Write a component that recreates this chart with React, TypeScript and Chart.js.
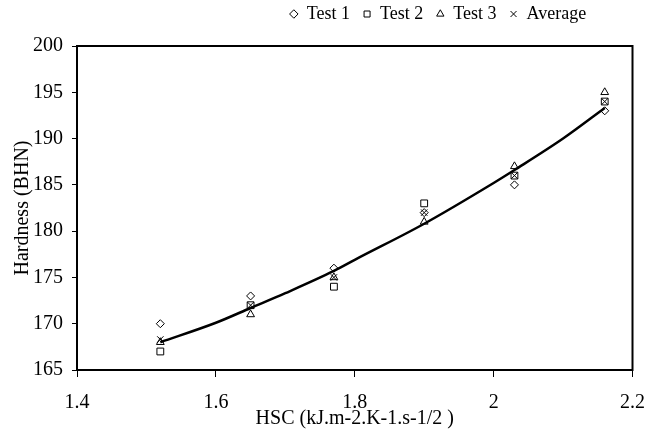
import React, { useEffect, useRef } from 'react';
import { Chart, registerables } from 'chart.js';

Chart.register(...registerables);

// ---- data ----
const HSC = [1.52, 1.65, 1.77, 1.9, 2.03, 2.16];
const TEST1 = [170, 173, 176, 182, 185, 193];
const TEST2 = [167, 172, 174, 183, 186, 194];
const TEST3 = [168, 171, 175, 181, 187, 195];
const AVERAGE = [168.3, 172, 175, 182, 186, 194];
const TREND_X = [1.52, 1.6, 1.65, 1.7, 1.77, 1.8, 1.9, 2.0, 2.03, 2.1, 2.16];
const TREND_Y = [168.0, 170.1, 171.7, 173.3, 175.7, 176.9, 180.8, 185.2, 186.6, 190.0, 193.3];
const X_TICKS = [1.4, 1.6, 1.8, 2, 2.2];
const Y_TICKS = [165, 170, 175, 180, 185, 190, 195, 200];
const SERIES_NAMES = ['Test 1', 'Test 2', 'Test 3', 'Average'];
const X_TITLE = 'HSC (kJ.m-2.K-1.s-1/2 )';
const Y_TITLE = 'Hardness (BHN)';

const FONT = "'Liberation Serif', 'Times New Roman', serif";
const LEGEND_DX = 114;
const LEGEND_DY = -13;

const pts = (ys: number[]) => HSC.map((x, i) => ({ x, y: ys[i] }));

const legendShift = {
  id: 'legendShift',
  afterLayout(chart: any) {
    const lg = chart.legend;
    if (!lg) return;
    lg.left += LEGEND_DX;
    lg.right += LEGEND_DX;
    lg.top += LEGEND_DY;
    lg.bottom += LEGEND_DY;
  },
};

const frame = {
  id: 'frame',
  afterDatasetsDraw(chart: any) {
    const { ctx, chartArea } = chart;
    ctx.save();
    ctx.strokeStyle = '#000';
    ctx.lineWidth = 2;
    ctx.strokeRect(chartArea.left, chartArea.top, chartArea.right - chartArea.left, chartArea.bottom - chartArea.top);
    ctx.restore();
  },
};

export default function App() {
  const ref = useRef<HTMLCanvasElement>(null);

  useEffect(() => {
    if (!ref.current) return;
    const markerBase = {
      showLine: false,
      borderColor: '#000',
      backgroundColor: 'rgba(0,0,0,0)',
      borderWidth: 1,
      pointBorderWidth: 1,
    };
    const chart = new Chart(ref.current, {
      type: 'scatter',
      data: {
        datasets: [
          { ...markerBase, label: SERIES_NAMES[0], data: pts(TEST1), pointStyle: 'rectRot', pointRadius: 4 },
          { ...markerBase, label: SERIES_NAMES[1], data: pts(TEST2), pointStyle: 'rect', pointRadius: 4.8 },
          { ...markerBase, label: SERIES_NAMES[2], data: pts(TEST3), pointStyle: 'triangle', pointRadius: 4.5 },
          { ...markerBase, label: SERIES_NAMES[3], data: pts(AVERAGE), pointStyle: 'crossRot', pointRadius: 4.5 },
          {
            label: 'trend',
            data: TREND_X.map((x, i) => ({ x, y: TREND_Y[i] })),
            showLine: true,
            borderColor: '#000',
            borderWidth: 2.5,
            pointRadius: 0,
            cubicInterpolationMode: 'monotone',
          },
        ],
      } as any,
      options: {
        responsive: false,
        animation: false,
        devicePixelRatio: 1,
        layout: { padding: { top: 5, left: 0, right: 0, bottom: 0 } },
        plugins: {
          tooltip: { enabled: false },
          legend: {
            display: true,
            position: 'top',
            align: 'center',
            labels: {
              usePointStyle: true,
              boxWidth: 8,
              boxHeight: 6,
              padding: 13,
              color: '#000',
              font: { family: FONT, size: 18 },
              filter: (item: any) => item.datasetIndex < 4,
            },
          },
        },
        scales: {
          x: {
            type: 'linear',
            min: X_TICKS[0],
            max: X_TICKS[X_TICKS.length - 1],
            afterBuildTicks: (s: any) => {
              s.ticks = X_TICKS.map((v) => ({ value: v }));
            },
            border: { display: false },
            grid: { display: true, drawOnChartArea: false, drawTicks: true, tickLength: 7, tickColor: '#000', tickWidth: 1 },
            ticks: {
              color: '#000',
              padding: 3,
              maxRotation: 0,
              font: { family: FONT, size: 20, lineHeight: 2.3 },
              callback: (v: any) => String(v),
            },
            title: {
              display: true,
              text: X_TITLE,
              color: '#000',
              font: { family: FONT, size: 20, lineHeight: 1.2 },
              padding: { top: -22, bottom: 9 },
            },
          },
          y: {
            type: 'linear',
            min: Y_TICKS[0],
            max: Y_TICKS[Y_TICKS.length - 1],
            afterBuildTicks: (s: any) => {
              s.ticks = Y_TICKS.map((v) => ({ value: v }));
            },
            border: { display: false },
            grid: { display: true, drawOnChartArea: false, drawTicks: true, tickLength: 5, tickColor: '#000', tickWidth: 1 },
            ticks: {
              color: '#000',
              padding: 9,
              font: { family: FONT, size: 20 },
              callback: (v: any) => String(v),
            },
            title: {
              display: true,
              text: Y_TITLE,
              color: '#000',
              font: { family: FONT, size: 20, lineHeight: 1.2 },
              padding: { top: 11, bottom: -11 },
            },
          },
        },
      } as any,
      plugins: [legendShift, frame],
    });
    return () => chart.destroy();
  }, []);

  return (
    <div style={{ position: 'fixed', left: 0, top: 0, width: 648, height: 440, background: '#fff' }}>
      <canvas ref={ref} width={648} height={440} style={{ display: 'block' }} />
    </div>
  );
}
